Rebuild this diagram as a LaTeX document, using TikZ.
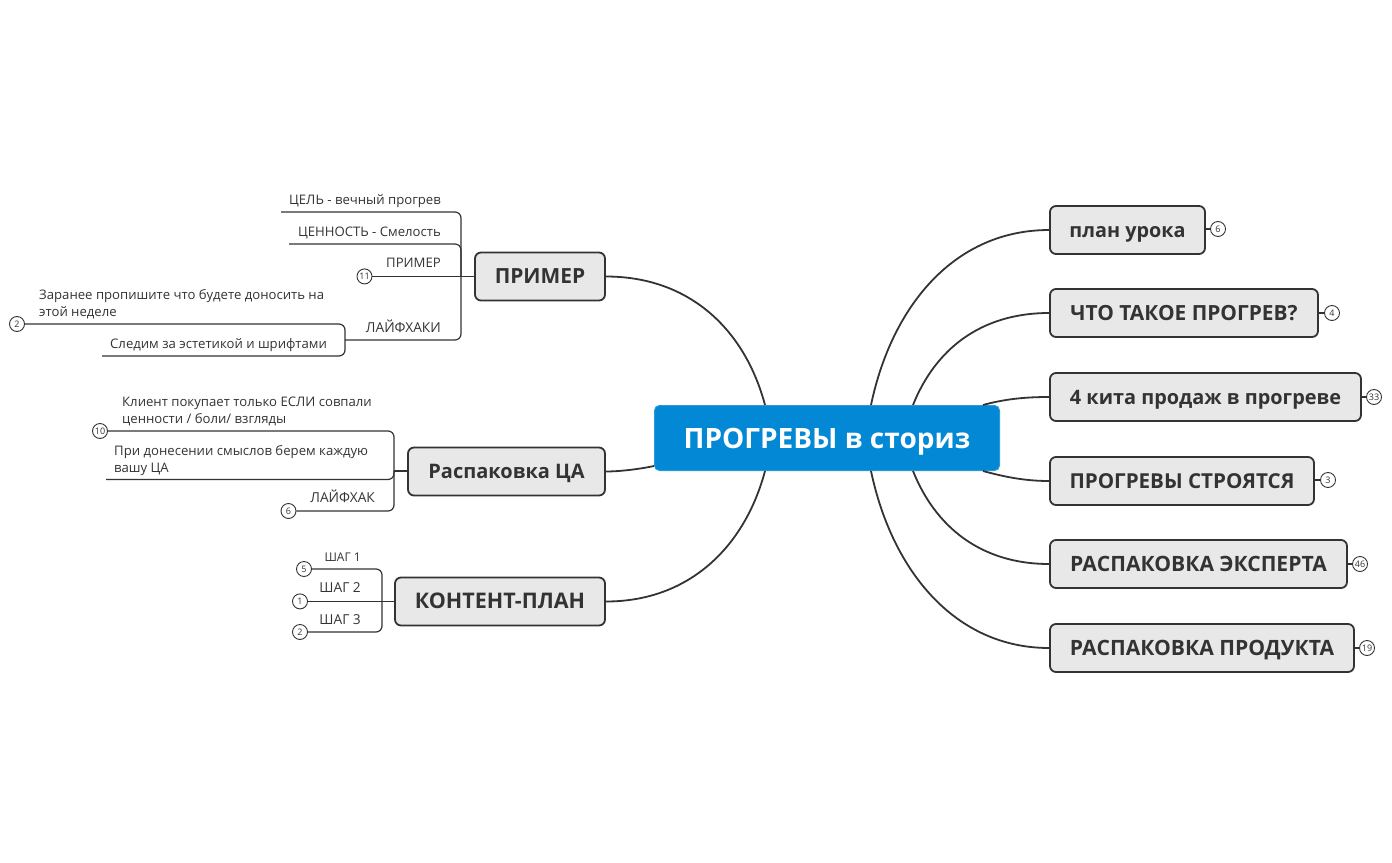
\documentclass[tikz,border=0pt]{standalone}
\usepackage{fontspec}
\setmainfont{Open Sans}
\definecolor{ink}{HTML}{333333}
\definecolor{boxfill}{HTML}{E8E8E8}
\definecolor{centralblue}{HTML}{0288D4}
\tikzset{
  central/.style={rectangle,rounded corners=5pt,fill=centralblue,draw=centralblue!85!white,line width=1pt,text=white,font=\fontsize{28}{32}\selectfont\bfseries,minimum width=345pt,minimum height=65pt,inner sep=0pt,text height=22pt,text depth=2pt},
  branch/.style={rectangle,rounded corners=6pt,fill=boxfill,draw=ink,line width=1.8pt,text=ink,minimum height=48pt,inner sep=0pt,text height=16pt,text depth=2pt},
  bfs/.style={font=\fontsize{#1}{24}\selectfont\bfseries},
  conn/.style={draw=ink,line width=1.8pt},
  leafline/.style={draw=ink,line width=1.2pt,rounded corners=6pt},
  leaf/.style={text=ink,font=\fontsize{13.15}{17}\selectfont,inner sep=0pt},
  leafcaps/.style={leaf,font=\fontsize{13.7}{17}\selectfont},
  badge/.style={circle,draw=ink,fill=white,line width=0.9pt,minimum size=15pt,inner sep=0pt,text=ink,font=\fontsize{9}{10}\selectfont},
}
\begin{document}
\begin{tikzpicture}[x=1pt,y=-1pt]
\useasboundingbox (0,0) rectangle (1392,862);
% anchors on the central node
\coordinate (ct1) at (871,405);
\coordinate (ct2) at (913,405);
\coordinate (ct3) at (983,405);
\coordinate (cb1) at (871,471);
\coordinate (cb2) at (913,471);
\coordinate (cb3) at (983,471);
\coordinate (ctl) at (765,405);
\coordinate (cbl) at (765,471);
\coordinate (cml) at (654,466);
% central
\node[central] (c) at (827,438) {ПРОГРЕВЫ в сториз};
% branches
\node[branch,bfs=19.8,minimum width=155pt] (b1) at (1127.5,230) {план урока};
\node[branch,bfs=20.9,minimum width=268pt] (b2) at (1184,313) {ЧТО ТАКОЕ ПРОГРЕВ?};
\node[branch,bfs=19.9,minimum width=311pt] (b3) at (1205.5,397) {4 кита продаж в прогреве};
\node[branch,bfs=20.6,minimum width=264pt] (b4) at (1182,481) {ПРОГРЕВЫ СТРОЯТСЯ};
\node[branch,bfs=21.1,minimum width=297pt] (b5) at (1198.5,564) {РАСПАКОВКА ЭКСПЕРТА};
\node[branch,bfs=21.1,minimum width=304pt] (b6) at (1202,648) {РАСПАКОВКА ПРОДУКТА};
\node[branch,bfs=20.9,minimum width=130pt] (l1) at (540,276.5) {ПРИМЕР};
\node[branch,bfs=20,minimum width=197pt] (l2) at (506.5,471.5) {Распаковка ЦА};
\node[branch,bfs=21.5,minimum width=210pt] (l3) at (500,601.5) {КОНТЕНТ-ПЛАН};
% main connectors
\draw[conn] (ct1) .. controls (892,305) and (955,230) .. (b1.west);
\draw[conn] (ct2) .. controls (935,350) and (980,313) .. (b2.west);
\draw[conn] (ct3) .. controls (1005,399) and (1025,397) .. (b3.west);
\draw[conn] (cb3) .. controls (1005,477) and (1025,481) .. (b4.west);
\draw[conn] (cb2) .. controls (935,526) and (980,564) .. (b5.west);
\draw[conn] (cb1) .. controls (892,571) and (955,648) .. (b6.west);
\draw[conn] (ctl) .. controls (745,330) and (690,276.5) .. (l1.east);
\draw[conn] (cbl) .. controls (745,546) and (690,601.5) .. (l3.east);
\draw[conn] (cml) .. controls (640,469) and (620,471.5) .. (l2.east);
% right badges
\node[badge] (n1) at (1218,229) {6};
\node[badge] (n2) at (1332,313) {4};
\node[badge] (n3) at (1374,397) {33};
\node[badge] (n4) at (1328,480) {3};
\node[badge] (n5) at (1360,564) {46};
\node[badge] (n6) at (1367,648) {19};
\draw[leafline] (b1.east |- n1) -- (n1);
\draw[leafline] (b2.east) -- (n2);
\draw[leafline] (b3.east) -- (n3);
\draw[leafline] (b4.east |- n4) -- (n4);
\draw[leafline] (b5.east) -- (n5);
\draw[leafline] (b6.east) -- (n6);
% ПРИМЕР group
\coordinate (s1) at (461,276);
\coordinate (e1) at (281,212);
\coordinate (e2) at (289,244);
\node[badge] (n7) at (364.5,276.4) {11};
\coordinate (e4) at (345,340);
\node[leaf,anchor=base east] (t1) at (441,204) {ЦЕЛЬ - вечный прогрев};
\node[leaf,anchor=base east] (t2) at (441,236) {ЦЕННОСТЬ - Смелость};
\node[leaf,anchor=base east] (t3) at (441,267) {ПРИМЕР};
\node[leafcaps,anchor=base east] (t4) at (441,332) {ЛАЙФХАКИ};
\draw[leafline] (e1) -- (e1 -| s1) -- (s1);
\draw[leafline] (e2) -- (e2 -| s1) -- (s1);
\draw[leafline] (n7) -- (l1.west |- n7);
\draw[leafline] (e4) -- (e4 -| s1) -- (s1);
\node[badge] (n8) at (17,324) {2};
\coordinate (e5) at (102,356);
\node[leaf,anchor=north west,align=left] (t5) at (39,289.5) {Заранее пропишите что будете доносить на\\этой неделе};
\node[leaf,anchor=base west] (t6) at (110,348) {Следим за эстетикой и шрифтами};
\draw[leafline] (n8) -- (n8 -| e4) -- (e4);
\draw[leafline] (e5) -- (e5 -| e4) -- (e4);
% Распаковка ЦА group
\coordinate (s2) at (394,471);
\node[badge] (n9) at (100,431) {10};
\coordinate (e6) at (106,479.5);
\node[badge] (n10) at (288.5,511) {6};
\node[leaf,anchor=north west,align=left] (t7) at (122,397) {Клиент покупает только ЕСЛИ совпали\\ценности / боли/ взгляды};
\node[leaf,anchor=north west,align=left] (t8) at (114,445) {При донесении смыслов берем каждую\\вашу ЦА};
\node[leafcaps,anchor=base east] (t9) at (375,502) {ЛАЙФХАК};
\draw[leafline] (n9) -- (n9 -| s2) -- (s2);
\draw[leafline] (e6) -- (e6 -| s2) -- (s2);
\draw[leafline] (n10) -- (n10 -| s2) -- (s2);
\draw[leafline] (s2) -- (l2.west |- s2);
% КОНТЕНТ-ПЛАН group
\coordinate (s3) at (382,601);
\node[badge] (n11) at (304,569) {5};
\node[badge] (n12) at (300,601.4) {1};
\node[badge] (n13) at (300,632) {2};
\node[leaf,font=\fontsize{12}{17}\selectfont,anchor=base east] (t10) at (361,561) {ШАГ 1};
\node[leafcaps,anchor=base east] (t11) at (361,592) {ШАГ 2};
\node[leafcaps,anchor=base east] (t12) at (361,624) {ШАГ 3};
\draw[leafline] (n11) -- (n11 -| s3) -- (s3);
\draw[leafline] (n13) -- (n13 -| s3) -- (s3);
\draw[leafline] (n12) -- (l3.west |- n12);
\end{tikzpicture}
\end{document}
